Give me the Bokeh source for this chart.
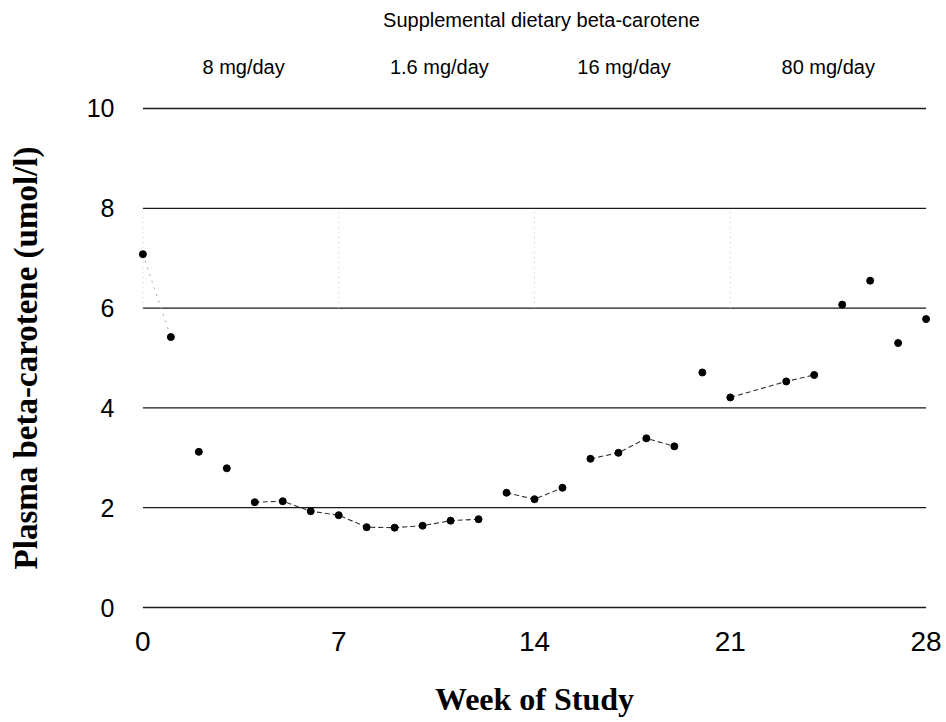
from bokeh.plotting import figure
from bokeh.layouts import column
from bokeh.models import Range1d, FixedTicker, Label
from bokeh.embed import file_html
from bokeh.resources import INLINE

# Plasma beta-carotene by week of study
weeks = [0, 1, 2, 3, 4, 5, 6, 7, 8, 9, 10, 11, 12, 13, 14, 15, 16, 17, 18, 19,
         20, 21, 23, 24, 25, 26, 27, 28]
beta = [7.08, 5.42, 3.12, 2.79, 2.11, 2.13, 1.93, 1.85, 1.61, 1.60, 1.64, 1.74,
        1.77, 2.30, 2.17, 2.40, 2.98, 3.10, 3.39, 3.23, 4.71, 4.21, 4.53, 4.66,
        6.07, 6.55, 5.30, 5.78]

# runs of consecutive weeks joined by a dashed connector (first, last week)
connected_runs = [(4, 12), (13, 15), (16, 19), (21, 24)]
faint_runs = [(0, 1)]

# supplementation phases
phase_starts = [0, 7, 14, 21]
phase_labels = ["8 mg/day", "1.6 mg/day", "16 mg/day", "80 mg/day"]
phase_label_x = [3.6, 10.6, 17.2, 24.5]
header = "Supplemental dietary beta-carotene"
header_x = 14.25

x_ticks = [0, 7, 14, 21, 28]
y_ticks = [0, 2, 4, 6, 8, 10]

x_range = Range1d(-0.3, 28.3)

# heading strip above the chart, sharing the week axis (y in pixels)
HEAD_H = 86
head = figure(width=946, height=HEAD_H, output_backend="svg",
              toolbar_location=None, x_range=x_range,
              y_range=Range1d(0, HEAD_H),
              x_axis_location=None, y_axis_location=None,
              min_border_left=134, min_border_right=12, min_border_top=0,
              min_border_bottom=0)
head.outline_line_color = None
head.xgrid.visible = False
head.ygrid.visible = False
head.add_layout(Label(x=header_x, y=HEAD_H - 19, text=header,
                      text_align="center", text_baseline="middle",
                      text_font="Liberation Sans", text_font_size="20px",
                      text_color="black"))
for lx, lt in zip(phase_label_x, phase_labels):
    head.add_layout(Label(x=lx, y=HEAD_H - 66, text=lt, text_align="center",
                          text_baseline="middle", text_font="Liberation Sans",
                          text_font_size="20px", text_color="black"))

p = figure(width=946, height=722 - HEAD_H, output_backend="svg",
           toolbar_location=None, x_range=x_range, y_range=Range1d(-0.2, 10.2),
           min_border_left=134, min_border_right=12, min_border_top=98 - HEAD_H,
           min_border_bottom=105)
p.outline_line_color = None
p.xgrid.visible = False
p.ygrid.visible = False
p.background_fill_color = "white"
p.border_fill_color = "white"

# horizontal reference lines across the study period
p.segment(x0=[x_ticks[0]] * len(y_ticks), x1=[x_ticks[-1]] * len(y_ticks),
          y0=y_ticks, y1=y_ticks, line_color="#1a1a1a", line_width=1.3)

# faint dotted markers at the start of each phase
p.segment(x0=phase_starts, x1=phase_starts, y0=[6.0] * 4, y1=[8.0] * 4,
          line_color="#c8c8c8", line_width=1, line_dash="1 4")

idx = {w: i for i, w in enumerate(weeks)}


def run_xy(a, b):
    xs = [w for w in weeks if a <= w <= b]
    ys = [beta[idx[w]] for w in xs]
    return xs, ys


for a, b in connected_runs:
    xs, ys = run_xy(a, b)
    p.line(xs, ys, line_color="#333333", line_width=1.1, line_dash="5 3")

for a, b in faint_runs:
    xs, ys = run_xy(a, b)
    p.line(xs, ys, line_color="#aaaaaa", line_width=1, line_dash="2 5")

p.scatter(weeks, beta, size=7, fill_color="black", line_color="black")

# axes: tick labels only
p.xaxis.ticker = FixedTicker(ticks=x_ticks)
p.yaxis.ticker = FixedTicker(ticks=y_ticks)
for ax in (p.xaxis[0], p.yaxis[0]):
    ax.axis_line_color = None
    ax.major_tick_line_color = None
    ax.minor_tick_line_color = None
    ax.major_label_text_font = "Liberation Sans"
    ax.major_label_text_color = "black"
    ax.axis_label_text_font = "Liberation Serif"
    ax.axis_label_text_font_style = "bold"
    ax.axis_label_text_color = "black"

p.xaxis.major_label_text_font_size = "28px"
p.yaxis.major_label_text_font_size = "25px"
p.xaxis.major_label_standoff = 8
p.yaxis.major_label_standoff = 14
p.xaxis.axis_label = "Week of Study"
p.yaxis.axis_label = "Plasma beta-carotene (umol/l)"
p.xaxis.axis_label_text_font_size = "32px"
p.yaxis.axis_label_text_font_size = "33px"
p.xaxis.axis_label_standoff = 27
p.yaxis.axis_label_standoff = 40

layout = column(head, p, spacing=0)
open("out.html", "w").write(file_html(layout, INLINE))
